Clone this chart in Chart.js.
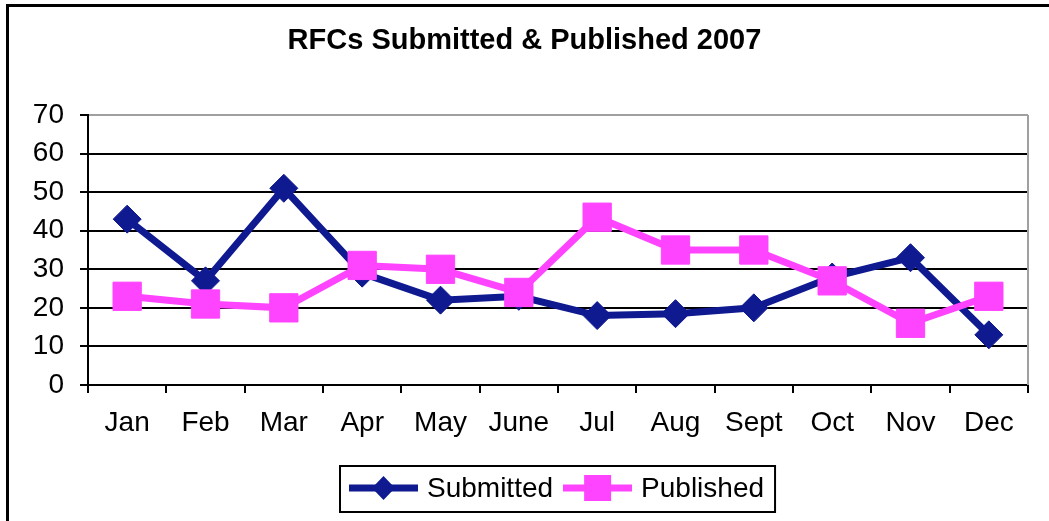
<!DOCTYPE html>
<html>
<head>
<meta charset="utf-8">
<script src="https://cdn.jsdelivr.net/npm/chart.js@4"></script>
<style>
  html, body { margin: 0; padding: 0; background: #fff; overflow: hidden; }
  #wrap { position: relative; width: 1049px; height: 521px; }
  #frame { position: absolute; left: 6px; top: 4px; width: 2000px; height: 2000px;
           border-left: 3px solid #000; border-top: 3px solid #000; pointer-events: none; }
</style>
</head>
<body>
<div id="wrap">
  <canvas id="myChart" width="1049" height="521"></canvas>
  <div id="frame"></div>
</div>
<script>
const months = ['Jan', 'Feb', 'Mar', 'Apr', 'May', 'June', 'Jul', 'Aug', 'Sept', 'Oct', 'Nov', 'Dec'];
const submitted = [43, 27, 51, 29, 22, 23, 18, 18.5, 20, 28, 33, 13];
const published = [23, 21, 20, 31, 30, 24, 43.5, 35, 35, 27, 16, 23];
const yTicks = [0, 10, 20, 30, 40, 50, 60, 70];

const navy = '#0f1990';
const pink = '#ff44ff';
const font = '"Liberation Sans", Arial, sans-serif';

// little legend pictures: a thick line with the marker on it
function legendIcon(color, shape) {
    const c = document.createElement('canvas');
    c.width = 69; c.height = 30;
    const g = c.getContext('2d');
    g.strokeStyle = color;
    g.fillStyle = color;
    g.lineWidth = 7;
    g.beginPath(); g.moveTo(0, 15); g.lineTo(69, 15); g.stroke();
    g.beginPath();
    if (shape === 'diamond') {
        g.moveTo(34.5, 3); g.lineTo(46, 15); g.lineTo(34.5, 27); g.lineTo(23, 15);
    } else {
        g.rect(21, 2, 27, 26);
    }
    g.fill();
    return c;
}
const icons = [legendIcon(navy, 'diamond'), legendIcon(pink, 'square')];

// gray plot edge + the boxed legend under the chart
const framePlugin = {
    id: 'framePlugin',
    afterDraw(chart) {
        const ctx = chart.ctx;
        const a = chart.chartArea;
        ctx.save();
        ctx.strokeStyle = '#a0a0a0';
        ctx.lineWidth = 2;
        ctx.beginPath();
        ctx.moveTo(a.right, a.top);
        ctx.lineTo(a.right, a.bottom);
        ctx.stroke();

        ctx.font = '28px ' + font;
        const items = chart.data.datasets.map((ds, i) => ({
            icon: icons[i], text: ds.label, w: ctx.measureText(ds.label).width
        }));
        const gapIcon = 9, gapItem = 10, padL = 9, padR = 11;
        let total = padL + padR;
        items.forEach((it, i) => { total += it.icon.width + gapIcon + it.w + (i ? gapItem : 0); });
        const cy = chart.height - 33;
        let x = Math.round((a.left + a.right) / 2 - total / 2);
        ctx.strokeStyle = '#000';
        ctx.lineWidth = 2;
        ctx.strokeRect(x, cy - 22, total, 46);
        x += padL;
        ctx.fillStyle = '#000';
        ctx.textBaseline = 'middle';
        items.forEach((it, i) => {
            if (i) x += gapItem;
            ctx.drawImage(it.icon, x, cy - it.icon.height / 2);
            x += it.icon.width + gapIcon;
            ctx.fillText(it.text, x, cy + 1);
            x += it.w;
        });
        ctx.restore();
    }
};

const ctx = document.getElementById('myChart').getContext('2d');
const myChart = new Chart(ctx, {
    type: 'line',
    data: {
        labels: months,
        datasets: [{
            label: 'Submitted',
            data: submitted,
            borderColor: navy,
            backgroundColor: navy,
            borderWidth: 7,
            pointStyle: 'rectRot',
            pointRadius: 14,
            pointBorderWidth: 1,
            order: 1
        }, {
            label: 'Published',
            data: published,
            borderColor: pink,
            backgroundColor: pink,
            borderWidth: 7,
            pointStyle: 'rect',
            pointRadius: 20,
            pointBorderWidth: 1,
            order: 0
        }]
    },
    options: {
        responsive: false,
        animation: false,
        layout: { padding: { left: 16, right: 16, top: 0, bottom: 0 } },
        plugins: {
            tooltip: { enabled: false },
            legend: { display: false },
            title: {
                display: true,
                text: 'RFCs Submitted & Published 2007',
                color: '#000',
                font: { family: font, size: 29, weight: 'bold' },
                padding: { top: 24, bottom: 56.2 }
            }
        },
        scales: {
            x: {
                offset: true,
                afterFit(scale) { scale.height = 136; },
                grid: {
                    offset: true,
                    drawOnChartArea: false,
                    drawTicks: true,
                    tickLength: 8,
                    color: '#000',
                    lineWidth: 2
                },
                border: { display: true, color: '#000', width: 2 },
                ticks: {
                    color: '#000',
                    padding: 13,
                    maxRotation: 0,
                    autoSkip: false,
                    font: { family: font, size: 28 }
                }
            },
            y: {
                min: 0,
                max: 70,
                afterFit(scale) { scale.width = 72; },
                afterBuildTicks(scale) { scale.ticks = yTicks.map(v => ({ value: v })); },
                grid: {
                    color: ctx => (ctx.tick && ctx.tick.value === 70 ? '#a0a0a0' : '#000'),
                    tickColor: '#000',
                    lineWidth: 2,
                    tickLength: 8
                },
                border: { display: true, color: '#000', width: 2 },
                ticks: {
                    color: '#000',
                    padding: 16,
                    font: { family: font, size: 28 }
                }
            }
        }
    },
    plugins: [framePlugin]
});
</script>
</body>
</html>
